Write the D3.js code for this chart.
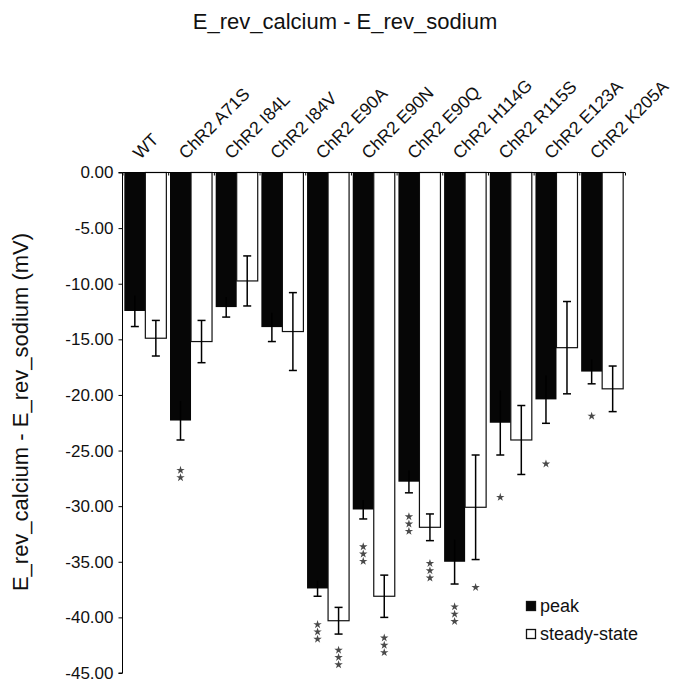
<!DOCTYPE html>
<html>
<head>
<meta charset="utf-8">
<script src="https://cdn.jsdelivr.net/npm/d3@7"></script>
<style>
  body { margin: 0; background: #fff; }
  svg { display: block; font-family: "Liberation Sans", Arial, sans-serif; }
  .axis path, .axis line { stroke: #000; }
</style>
</head>
<body>
<div id="chart"></div>
<script>
var categories = ["WT", "ChR2 A71S", "ChR2 I84L", "ChR2 I84V", "ChR2 E90A", "ChR2 E90N",
  "ChR2 E90Q", "ChR2 H114G", "ChR2 R115S", "ChR2 E123A", "ChR2 K205A"];
var peak = [-12.45, -22.3, -12.1, -13.9, -37.4, -30.3, -27.8, -35.0, -22.5, -20.4, -17.9];
var peakErr = [1.4, 1.75, 0.9, 1.3, 0.7, 0.85, 1.0, 2.0, 2.9, 2.15, 1.1];
var steady = [-14.9, -15.2, -9.75, -14.3, -40.3, -38.1, -31.9, -30.1, -24.05, -15.75, -19.45];
var steadyErr = [1.6, 1.9, 2.25, 3.5, 1.2, 1.9, 1.2, 4.7, 3.1, 4.15, 2.05];
// significance stars and the level (mV) where they sit
var peakStars = [0, 2, 0, 0, 3, 3, 3, 3, 1, 1, 1];
var peakStarAt = [null, -27.1, null, null, -41.3, -34.3, -31.6, -39.7, -29.2, -26.2, -21.9];
var steadyStars = [0, 0, 0, 0, 3, 3, 3, 1, 0, 0, 0];
var steadyStarAt = [null, null, null, null, -43.6, -42.5, -35.8, -37.3, null, null, null];
var yTicks = [0, -5, -10, -15, -20, -25, -30, -35, -40, -45];
var seriesNames = ["peak", "steady-state"];

var width = 683, height = 685,
  plotLeft = 122.5, plotRight = 625, plotTop = 172.5, plotBottom = 673;

var locale = d3.formatLocale({
  "decimal": ".",
  "thousands": ",",
  "grouping": [3],
  "currency": ["$", ""],
  "minus": "-"
});

var rows = [];
categories.forEach(function (c, i) {
  rows.push({ cat: c, key: "peak", value: peak[i], err: peakErr[i], stars: peakStars[i], starAt: peakStarAt[i] });
  rows.push({ cat: c, key: "steady", value: steady[i], err: steadyErr[i], stars: steadyStars[i], starAt: steadyStarAt[i] });
});

var svg = d3.select("#chart").append("svg")
  .attr("width", width)
  .attr("height", height);

// Set the ranges
var x = d3.scaleBand().domain(categories).range([plotLeft, plotRight]).paddingInner(0.08).paddingOuter(0.04);
var xs = d3.scaleBand().domain(["peak", "steady"]).range([0, x.bandwidth()]);
var y = d3.scaleLinear().domain([-45, 0]).range([plotBottom, plotTop]);

// Title
svg.append("text")
  .attr("x", 345)
  .attr("y", 29)
  .attr("text-anchor", "middle")
  .attr("font-size", 22)
  .attr("fill", "#111")
  .text("E_rev_calcium - E_rev_sodium");

// Y label
svg.append("text")
  .attr("transform", "translate(28,412) rotate(-90)")
  .attr("text-anchor", "middle")
  .attr("font-size", 22)
  .attr("fill", "#111")
  .text("E_rev_calcium - E_rev_sodium (mV)");

// Bars
var bars = svg.append("g");
bars.selectAll("rect")
  .data(rows)
  .enter().append("rect")
  .attr("x", function (d) { return x(d.cat) + xs(d.key); })
  .attr("y", y(0))
  .attr("width", xs.bandwidth())
  .attr("height", function (d) { return y(d.value) - y(0); })
  .attr("fill", function (d) { return d.key == "peak" ? "#060606" : "#fff"; })
  .attr("stroke", function (d) { return d.key == "peak" ? "none" : "#111"; })
  .attr("stroke-width", 1.2);

// Error bars
var cx = function (d) { return x(d.cat) + xs(d.key) + xs.bandwidth() / 2; };
var errs = svg.append("g").attr("stroke", "#000").attr("stroke-width", 1.5);
rows.forEach(function (d) {
  var c = cx(d);
  errs.append("line").attr("x1", c).attr("x2", c)
    .attr("y1", y(d.value + d.err)).attr("y2", y(d.value - d.err));
  errs.append("line").attr("x1", c - 4).attr("x2", c + 4)
    .attr("y1", y(d.value - d.err)).attr("y2", y(d.value - d.err));
  if (d.key != "peak") {
    errs.append("line").attr("x1", c - 4).attr("x2", c + 4)
      .attr("y1", y(d.value + d.err)).attr("y2", y(d.value + d.err));
  }
});

// Stars
var star = d3.symbol().type(d3.symbolStar).size(22);
var stars = svg.append("g").attr("fill", "#4a4a4a");
rows.forEach(function (d) {
  if (!d.stars) return;
  for (var k = 0; k < d.stars; k++) {
    var off = (k - (d.stars - 1) / 2) * 7.3;
    stars.append("path")
      .attr("d", star)
      .attr("transform", "translate(" + cx(d) + "," + (y(d.starAt) + off) + ")");
  }
});

// Y axis
var yAxis = d3.axisLeft(y).tickValues(yTicks).tickSize(4).tickPadding(5).tickFormat(locale.format(".2f"));
svg.append("g")
  .attr("class", "axis")
  .attr("transform", "translate(" + plotLeft + ",0)")
  .call(yAxis)
  .call(function (g) {
    g.selectAll("text").attr("font-size", 17).attr("fill", "#111");
    g.select(".domain").attr("d", "M-4," + plotBottom + "H0V" + plotTop + "H-4");
  });

// X axis on the zero line, ticks between groups
var bounds = d3.range(categories.length + 1).map(function (i) {
  return Math.min(plotLeft + i * x.step(), plotRight);
});
var xAxis = d3.axisBottom(d3.scaleLinear().domain([plotLeft, plotRight]).range([plotLeft, plotRight]))
  .tickValues(bounds)
  .tickSize(3).tickFormat("");
svg.append("g")
  .attr("class", "axis")
  .attr("transform", "translate(0," + plotTop + ")")
  .call(xAxis)
  .call(function (g) { g.select(".domain").attr("d", "M" + plotLeft + ",0H" + plotRight); });

// Category labels
svg.append("g").selectAll("text")
  .data(categories)
  .enter().append("text")
  .attr("transform", function (d) {
    return "translate(" + (x(d) + x.bandwidth() / 2 - 5) + "," + 160 + ") rotate(-45)";
  })
  .attr("font-size", 17.5)
  .attr("fill", "#111")
  .text(function (d) { return d; });

// Legend
var legend = svg.append("g").attr("transform", "translate(526,601)");
seriesNames.forEach(function (n, i) {
  var g = legend.append("g").attr("transform", "translate(0," + i * 28 + ")");
  g.append("rect")
    .attr("x", 0.5).attr("y", 0.5).attr("width", 9).attr("height", 9)
    .attr("fill", i == 0 ? "#060606" : "#fff")
    .attr("stroke", "#111").attr("stroke-width", 1.3);
  g.append("text")
    .attr("x", 14).attr("y", 11)
    .attr("font-size", 18)
    .attr("fill", "#111")
    .text(n);
});
</script>
</body>
</html>
